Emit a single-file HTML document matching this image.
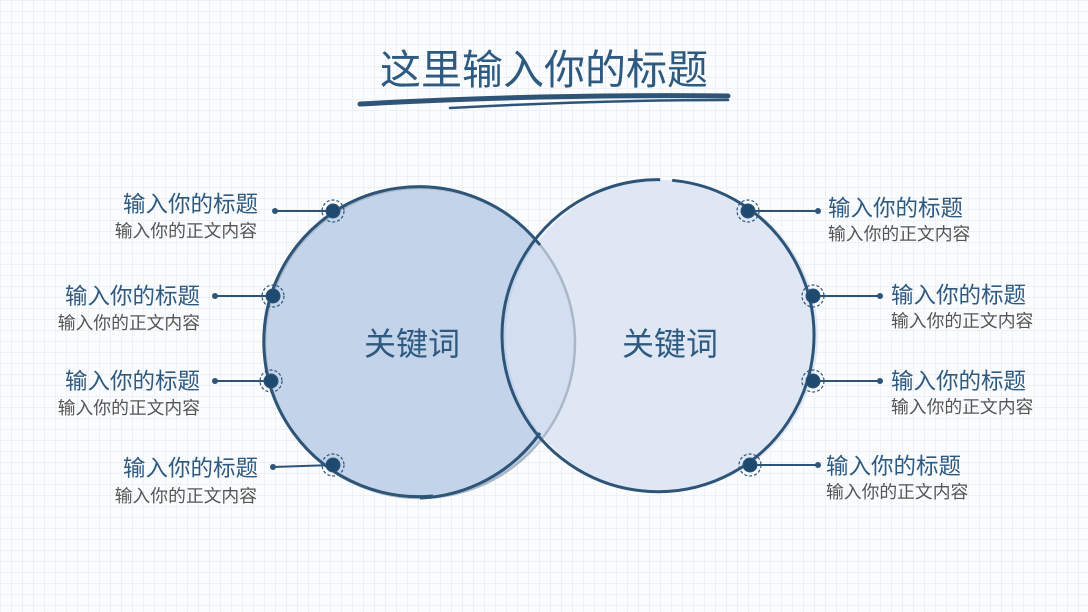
<!DOCTYPE html>
<html><head><meta charset="utf-8"><style>
body{margin:0;width:1088px;height:612px;overflow:hidden;background:#fbfcfd;
background-image:linear-gradient(#edf0f4 1px,transparent 1px),linear-gradient(90deg,#edf0f4 1px,transparent 1px);background-size:11px 11px;
font-family:"Liberation Sans","Noto Sans CJK SC",sans-serif;position:relative}
.t{position:absolute;font-size:22.5px;color:#2f5a80;line-height:26px;white-space:nowrap}
.s{position:absolute;font-size:17.8px;color:#555;line-height:20px;white-space:nowrap}
.r{text-align:right}
</style></head><body>
<svg width="1088" height="612" style="position:absolute;left:0;top:0">
<text x="544" y="84" text-anchor="middle" font-size="41" fill="#2f5a80" font-family="Liberation Sans,Noto Sans CJK SC,sans-serif">这里输入你的标题</text>
<path d="M360 104 Q540 94 728 96" stroke="#2e5578" stroke-width="5" fill="none" stroke-linecap="round"/>
<path d="M450 108 Q600 100 728 100" stroke="#2e5578" stroke-width="2.5" fill="none" stroke-linecap="round"/>
<circle cx="420" cy="343" r="155" fill="#c3d3ea"/>
<circle cx="662" cy="336" r="156" fill="#dfe7f4"/>
<clipPath id="c"><circle cx="420" cy="343" r="155"/></clipPath>
<circle cx="662" cy="336" r="156" fill="#d3def0" clip-path="url(#c)"/>
<circle cx="420" cy="343" r="155" fill="none" stroke="#a9b8c8" stroke-width="2.5"/>
<path d="M433 496 A155 155 0 1 1 540 245" fill="none" stroke="#2e5578" stroke-width="3"/>
<path d="M540 433 A155 155 0 0 1 420 498" fill="none" stroke="#2e5578" stroke-width="3"/>
<path d="M652 180 A156 156 0 1 0 664 180" fill="none" stroke="#2e5578" stroke-width="3" transform="rotate(3 662 336)"/>
<text x="412" y="355" text-anchor="middle" font-size="32" fill="#2f5a80" font-family="Liberation Sans,Noto Sans CJK SC,sans-serif">关键词</text>
<text x="670" y="355" text-anchor="middle" font-size="32" fill="#2f5a80" font-family="Liberation Sans,Noto Sans CJK SC,sans-serif">关键词</text>
<g stroke="#2e5578" stroke-width="2" fill="#2e5578">
<line x1="275" y1="211" x2="333" y2="211"/><line x1="215" y1="296" x2="273" y2="296"/>
<line x1="215" y1="381" x2="271" y2="381"/><line x1="273" y1="467" x2="333" y2="465"/>
<line x1="748" y1="211" x2="818" y2="211"/><line x1="813" y1="296" x2="880" y2="296"/>
<line x1="813" y1="381" x2="880" y2="381"/><line x1="750" y1="465" x2="818" y2="465"/>
</g>
<g fill="#2e5578">
<circle cx="275" cy="211" r="3"/><circle cx="215" cy="296" r="3"/><circle cx="215" cy="381" r="3"/><circle cx="273" cy="467" r="3"/>
<circle cx="818" cy="211" r="3"/><circle cx="880" cy="296" r="3"/><circle cx="880" cy="381" r="3"/><circle cx="818" cy="465" r="3"/>
</g>
<g fill="#1f4a70" stroke="#2e5578">
<g><circle cx="333" cy="211" r="7"/><circle cx="333" cy="211" r="11" fill="none" stroke-dasharray="3 2" stroke-width="1.2"/></g>
<g><circle cx="273" cy="296" r="7"/><circle cx="273" cy="296" r="11" fill="none" stroke-dasharray="3 2" stroke-width="1.2"/></g>
<g><circle cx="271" cy="381" r="7"/><circle cx="271" cy="381" r="11" fill="none" stroke-dasharray="3 2" stroke-width="1.2"/></g>
<g><circle cx="333" cy="465" r="7"/><circle cx="333" cy="465" r="11" fill="none" stroke-dasharray="3 2" stroke-width="1.2"/></g>
<g><circle cx="748" cy="211" r="7"/><circle cx="748" cy="211" r="11" fill="none" stroke-dasharray="3 2" stroke-width="1.2"/></g>
<g><circle cx="813" cy="296" r="7"/><circle cx="813" cy="296" r="11" fill="none" stroke-dasharray="3 2" stroke-width="1.2"/></g>
<g><circle cx="813" cy="381" r="7"/><circle cx="813" cy="381" r="11" fill="none" stroke-dasharray="3 2" stroke-width="1.2"/></g>
<g><circle cx="750" cy="465" r="7"/><circle cx="750" cy="465" r="11" fill="none" stroke-dasharray="3 2" stroke-width="1.2"/></g>
</g>
</svg>
<div class="t r" style="right:830px;top:192px">输入你的标题</div><div class="s r" style="right:831px;top:221px">输入你的正文内容</div>
<div class="t r" style="right:888px;top:284px">输入你的标题</div><div class="s r" style="right:888px;top:313px">输入你的正文内容</div>
<div class="t r" style="right:888px;top:369px">输入你的标题</div><div class="s r" style="right:888px;top:398px">输入你的正文内容</div>
<div class="t r" style="right:830px;top:456px">输入你的标题</div><div class="s r" style="right:831px;top:486px">输入你的正文内容</div>
<div class="t" style="left:828px;top:196px">输入你的标题</div><div class="s" style="left:828px;top:224px">输入你的正文内容</div>
<div class="t" style="left:891px;top:283px">输入你的标题</div><div class="s" style="left:891px;top:311px">输入你的正文内容</div>
<div class="t" style="left:891px;top:369px">输入你的标题</div><div class="s" style="left:891px;top:397px">输入你的正文内容</div>
<div class="t" style="left:826px;top:454px">输入你的标题</div><div class="s" style="left:826px;top:482px">输入你的正文内容</div>
</body></html>
